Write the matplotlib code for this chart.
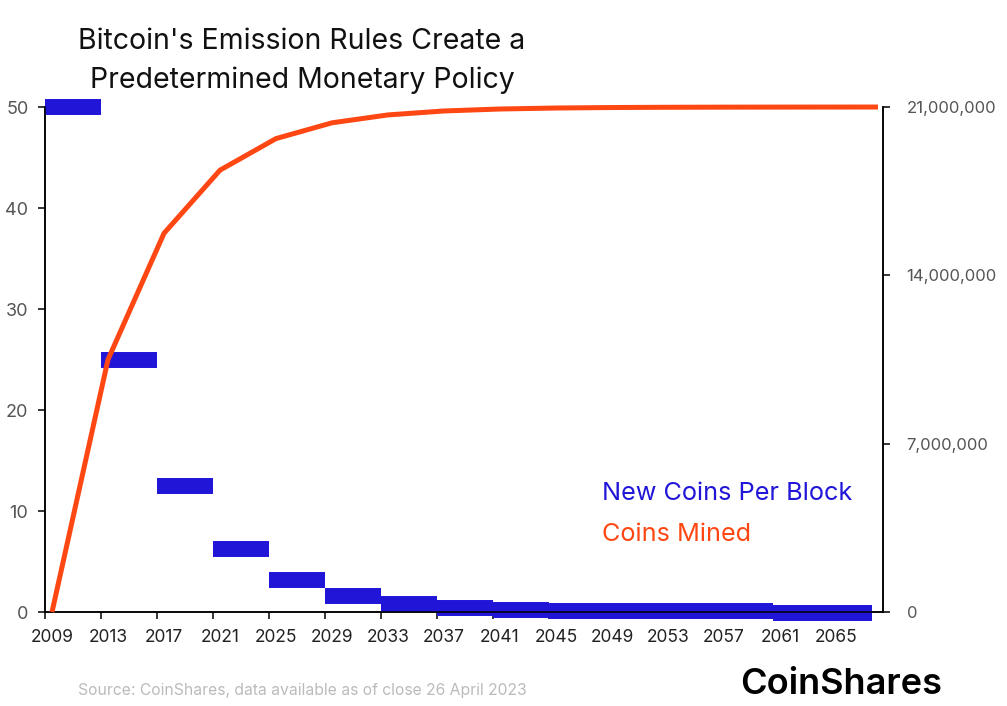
import matplotlib.pyplot as plt
import matplotlib.transforms as mtransforms

plt.rcParams['font.family'] = ['Inter', 'DejaVu Sans']

# new coins per block, one value per halving epoch
epoch_start = [2009, 2013, 2017, 2021, 2025, 2029, 2033, 2037, 2041, 2045, 2061]
epoch_end = [2013, 2017, 2021, 2025, 2029, 2033, 2037, 2041, 2045, 2061, 2068.1]
reward = [50, 25, 12.5, 6.25, 3.125, 1.5625, 0.78125, 0.390625, 0.1953, 0.08, -0.1]

# cumulative coins mined
mined_year = [2009.5, 2013.5, 2017.5, 2021.5, 2025.5, 2029.5, 2033.5, 2037.5, 2041.5, 2045.5,
              2049.5, 2053.5, 2057.5, 2061.5, 2065.5, 2068.5]
mined = [0, 10500000, 15750000, 18375000, 19687500, 20343750, 20671875, 20835938, 20917969,
         20958984, 20979492, 20989746, 20994873, 20997437, 20998718, 21000000]

year_ticks = list(range(2009, 2066, 4))

blue = '#2116D8'
orange = '#FF4713'
grey = '#555555'

fig = plt.figure(figsize=(10.07, 7.06), dpi=100)
ax = fig.add_axes([0.0447, 0.1331, 0.8322, 0.7153])
ax2 = ax.twinx()

ax.hlines(reward, epoch_start, epoch_end, color=blue, linewidth=11.5, clip_on=False, zorder=3)
ax2.plot(mined_year, mined, color=orange, linewidth=3.6, clip_on=False, zorder=4,
         solid_capstyle='butt')

ax.set_xlim(2009, 2068.86)
ax.set_ylim(0, 50)
ax2.set_ylim(0, 21000000)

ax.set_xticks(year_ticks)
ax.set_xticklabels([str(y) for y in year_ticks])
ax.set_yticks([0, 10, 20, 30, 40, 50])
ax2.set_yticks([0, 7000000, 14000000, 21000000])
ax2.set_yticklabels(['0', '7,000,000', '14,000,000', '21,000,000'])

for a in (ax, ax2):
    a.spines['top'].set_visible(False)
    for s in a.spines.values():
        s.set_linewidth(1.1)
    a.tick_params(length=5, width=1.1, labelsize=13, labelcolor=grey, pad=7)
ax.tick_params(axis='y', pad=7)
ax2.tick_params(axis='y', pad=12, labelsize=12)
ax.tick_params(axis='x', labelcolor='#222222', pad=7, labelsize=12.5)

offset = mtransforms.ScaledTranslation(7 / 100, 0, fig.dpi_scale_trans)
for lab in ax.get_xticklabels():
    lab.set_transform(lab.get_transform() + offset)

fig.text(0.30, 0.914, "Bitcoin's Emission Rules Create a\nPredetermined Monetary Policy",
         ha='center', va='center', fontsize=20.5, color='#111111', linespacing=1.55)

fig.text(0.598, 0.301, 'New Coins Per Block', color=blue, fontsize=18.2, va='center')
fig.text(0.598, 0.243, 'Coins Mined', color=orange, fontsize=18.2, va='center')

fig.text(0.077, 0.022, 'Source: CoinShares, data available as of close 26 April 2023',
         color='#BBBBBB', fontsize=11.3, va='center')
fig.text(0.735, 0.03, 'CoinShares', color='black', fontsize=26, fontweight='semibold', va='center')

fig.savefig('out.png', dpi=100)
